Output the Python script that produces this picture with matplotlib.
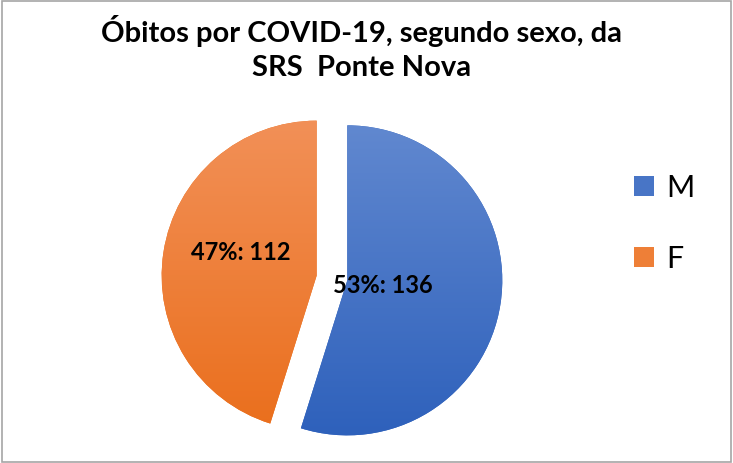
import matplotlib
matplotlib.use('Agg')
import matplotlib.pyplot as plt
import numpy as np
from matplotlib.colors import LinearSegmentedColormap
from matplotlib.patches import Patch, Rectangle

# data
labels = ['M', 'F']
counts = [136, 112]
percent_labels = ['53%', '47%']
top_colors = ['#6289d0', '#f29159']
bottom_colors = ['#2d60bb', '#ea6e1b']

plt.rcParams['font.family'] = ['Lato', 'DejaVu Sans']

fig = plt.figure(figsize=(7.33, 4.63), dpi=100)
ax = fig.add_axes([0.1886, -0.0189, 0.5286, 0.8369])

wedges, texts = ax.pie(counts, startangle=90, counterclock=False,
                       explode=[0.1, 0.1], colors=bottom_colors)
ax.set_xlim(-1.25, 1.25)
ax.set_ylim(-1.25, 1.25)
ax.set_aspect('equal')
ax.axis('off')

# vertical gradient fill, lighter at the top
grad = np.linspace(1, 0, 256).reshape(-1, 1)
for w, c_top, c_bot in zip(wedges, top_colors, bottom_colors):
    cmap = LinearSegmentedColormap.from_list('g', [c_bot, c_top])
    cx, cy = w.center
    im = ax.imshow(grad, cmap=cmap, vmin=0, vmax=1, aspect='auto',
                   extent=[cx - 1.05, cx + 1.05, cy - 1.05, cy + 1.05],
                   zorder=w.get_zorder() + 0.1)
    im.set_clip_path(w)

# data labels (offset from each wedge's apex)
offsets = [(0.23, -0.03), (-0.49, 0.15)]
for w, p, n, (dx, dy) in zip(wedges, percent_labels, counts, offsets):
    cx, cy = w.center
    ax.text(cx + dx, cy + dy, f'{p}: {n}', ha='center', va='center',
            fontsize=17, fontweight='bold', color='black', zorder=5)

fig.suptitle('Óbitos por COVID-19, segundo sexo, da\nSRS  Ponte Nova',
             x=0.493, y=0.968, fontsize=21, fontweight='bold', linespacing=1.4)

handles = [Patch(facecolor=c, edgecolor='none') for c in
           ['#4875c6', '#ee7f37']]
fig.legend(handles, labels, loc='center left', bbox_to_anchor=(0.828, 0.518),
           frameon=False, fontsize=22, handlelength=0.65, handleheight=0.65,
           handletextpad=0.4, labelspacing=1.4)

fig.patches.append(Rectangle((0.003, 0.003), 0.994, 0.994, transform=fig.transFigure,
                             fill=False, edgecolor='#a6a6a6', linewidth=1.2))

fig.savefig('out.png', dpi=100)
